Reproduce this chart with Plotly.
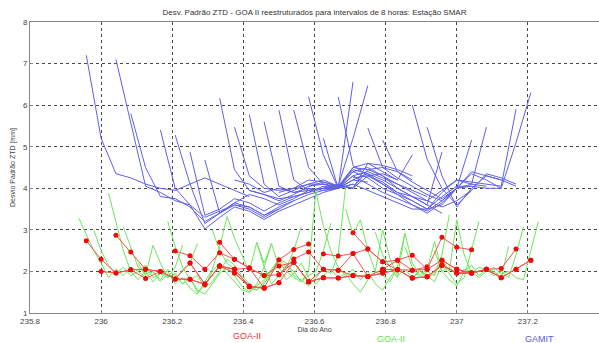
import plotly.graph_objects as go

# Day-of-year axis: values are sampled hourly (GAMIT, GOA-II 8 h) and half-hourly (GOA-II)
DAY0 = 235.0

# ---- GAMIT standard deviation, hourly samples: (start hour, values) ----
GAMIT_01 = (23, [7.2, 5.2, 4.35, 4.25, 4.1, 4.0, 3.95, 4.1, 4.25, 4.1, 3.95, 3.8])
GAMIT_02 = (25, [7.1, 5.6, 4.05, 3.9, 3.7, 3.6, 3.3, 3.45, 3.6, 3.5, 3.3, 3.5])
GAMIT_03 = (26, [5.8, 4.5, 3.8, 3.75, 3.55, 3.2, 3.4, 3.65, 3.55, 3.35, 3.55, 3.7])
GAMIT_04 = (28, [5.4, 4.0, 3.6, 3.02, 3.3, 3.55, 3.45, 3.25, 3.45, 3.6, 3.75, 3.9, 4.0])
GAMIT_05 = (29, [5.28, 4.1, 3.15, 3.4, 3.6, 3.55, 3.35, 3.5, 3.7, 3.85, 3.95, 4.0, 4.1])
GAMIT_06 = (30, [4.87, 3.35, 3.5, 3.75, 3.65, 3.45, 3.65, 3.8, 3.9, 4.05, 4.0, 4.2, 4.15])
GAMIT_07 = (31, [4.68, 3.4, 3.65, 3.85, 3.75, 3.6, 3.75, 3.95, 4.0, 4.1, 4.0, 4.3, 4.35, 4.2])
GAMIT_08 = (32, [6.17, 4.45, 3.95, 3.85, 3.7, 3.85, 4.05, 4.1, 4.05, 4.0, 4.45, 4.5, 4.4, 4.2])
GAMIT_09 = (33, [5.47, 4.3, 4.0, 3.95, 4.0, 4.2, 4.15, 4.05, 4.0, 4.6, 4.55, 4.45, 4.3])
GAMIT_10 = (34, [5.77, 4.1, 3.8, 3.95, 4.1, 4.1, 4.0, 4.3, 4.4, 4.25, 4.1, 3.95, 3.8])
GAMIT_11 = (35, [5.6, 4.05, 3.9, 4.0, 3.95, 4.0, 4.2, 4.35, 4.2, 4.0, 3.8, 3.6, 3.4])
GAMIT_12 = (36, [5.88, 4.2, 3.95, 4.0, 4.0, 4.5, 4.45, 4.3, 4.1, 3.9, 3.7, 3.55, 3.7, 3.95])
GAMIT_13 = (37, [5.88, 4.5, 4.1, 4.0, 4.4, 4.25, 4.0, 3.85, 3.7, 3.5, 3.6, 4.0, 4.05])
GAMIT_14 = (38, [6.2, 4.8, 4.0, 4.3, 4.1, 3.9, 3.75, 3.6, 3.4, 3.65, 4.0, 4.1, 4.05])
GAMIT_15 = (39, [5.2, 4.0, 4.1, 3.95, 3.8, 3.65, 3.5, 3.5, 3.8, 4.05, 4.05, 4.0, 4.0])
GAMIT_16 = (40, [6.2, 4.55, 4.3, 4.1, 3.9, 3.8, 3.7, 3.95, 4.2, 4.15, 4.1, 4.05, 5.9])
GAMIT_17 = (42, [5.45, 4.5, 4.25, 4.05, 3.85, 3.7, 4.0, 4.4, 4.3, 4.2])
GAMIT_18 = (43, [5.16, 4.4, 4.15, 3.95, 3.75, 4.0, 4.35, 4.2, 4.0, 5.1, 6.3])
GAMIT_19 = (45, [6.0, 4.7, 4.0, 3.6, 3.95, 4.35, 4.25, 4.1])
GAMIT_20 = (46, [5.47, 4.3, 3.55, 4.0, 4.3, 4.2, 4.05])
GAMIT_21 = (33, [4.2, 4.1, 3.9, 4.0, 3.9, 3.95, 4.0, 4.0, 6.56])
GAMIT_22 = (34, [3.95, 3.85, 3.75, 3.8, 3.9, 4.0, 4.05, 5.2, 6.47])
GAMIT_23 = (36, [3.9, 4.0, 4.1, 4.2, 4.05, 4.5, 4.6, 4.4, 4.2, 4.8])
GAMIT_24 = (38, [4.05, 4.15, 4.05, 4.4, 4.5, 4.3, 4.0, 3.8, 3.6, 4.87])
GAMIT_25 = (40, [4.02, 4.45, 4.35, 4.1, 3.85, 3.6, 3.45, 3.7, 4.0, 5.16])
GAMIT_26 = (41, [4.25, 4.3, 4.15, 3.9, 3.7, 3.5, 3.9, 4.2, 4.1, 5.47])

# ---- GOA-II standard deviation, half-hourly samples: (start half-hour, values) ----
GOA_01 = (45, [3.28, 2.9, 2.5, 2.2, 1.85, 2.05, 1.9, 2.1, 2.0, 1.85, 2.0, 1.75, 1.95, 1.8, 2.05, 2.2, 2.67])
GOA_02 = (47, [3.0, 2.5, 2.15, 1.95, 2.1, 1.9, 2.0, 2.15, 1.85, 1.95, 2.0, 1.7, 1.85, 1.6, 1.45, 1.75, 2.05, 2.6, 3.32])
GOA_03 = (49, [3.88, 3.2, 2.5, 2.0, 1.8, 2.0, 1.75, 1.95, 1.85, 2.1, 2.63])
GOA_04 = (51, [3.07, 2.6, 2.1, 1.95, 2.0, 1.8, 2.05, 1.9, 1.7, 1.85, 1.55, 1.45, 1.7, 1.95, 2.1, 1.9, 1.65, 1.5, 1.7, 2.1, 2.67])
GOA_05 = (53, [2.2, 1.9, 2.63, 2.2, 1.85, 1.95, 1.7, 1.85, 1.5, 1.65, 2.0, 2.2, 1.95, 1.75, 1.55, 1.5, 1.65, 1.8, 2.05, 2.3, 2.1, 2.5, 3.07])
GOA_06 = (57, [3.2, 2.6, 2.1, 1.8, 1.9, 1.6, 1.75, 2.0, 2.3, 2.15, 1.9, 1.7, 1.55, 1.7, 1.95, 2.25, 2.0, 1.85, 1.75, 1.9, 2.0, 2.5, 3.16])
GOA_07 = (63, [3.0, 2.5, 2.2, 2.05, 1.85, 1.6, 1.55, 1.75, 2.0, 2.3, 2.2, 1.9, 1.8, 1.65, 1.85, 2.05, 1.95, 2.4, 4.04])
GOA_08 = (65, [3.32, 2.8, 2.4, 2.0, 2.7, 2.1, 1.7, 1.9, 2.15, 2.0, 1.75, 2.0, 3.96])
GOA_09 = (69, [2.7, 2.2, 2.67, 2.1, 1.8, 1.95, 2.2, 1.85, 1.7, 1.9, 2.05, 1.85, 1.95, 1.7, 1.5, 1.8, 2.0, 1.9, 1.75, 2.1, 2.92])
GOA_10 = (77, [3.9, 3.1, 2.5, 2.1, 1.9, 2.05, 1.8, 2.0, 1.7, 1.55, 1.85, 2.1, 1.95, 1.8, 2.05, 1.85, 1.95, 2.4, 3.36])
GOA_11 = (81, [3.5, 2.9, 3.24, 2.5, 2.0, 3.0, 2.3, 1.9, 2.05, 1.85, 2.0, 1.9, 1.75, 2.15, 1.95, 1.7, 1.85, 2.5, 3.2])
GOA_12 = (85, [2.95, 2.4, 2.1, 1.85, 2.92, 2.2, 1.9, 2.05, 2.72, 2.0, 1.8, 1.65, 2.0, 2.15, 1.9, 2.05, 2.0, 1.85, 2.6])
GOA_13 = (89, [2.6, 2.1, 1.85, 2.0, 1.9, 2.3, 2.0, 3.24, 2.4, 1.95, 2.1, 2.05, 1.9, 2.0, 1.85, 2.4, 3.07])
GOA_14 = (93, [2.5, 2.0, 2.1, 1.9, 2.05, 2.0, 1.85, 2.0, 2.1, 1.95, 2.0, 1.85, 1.8, 2.5, 3.2])

# ---- GOA-II restructured into 8 h intervals, hourly samples: (start hour, values) ----
GOA8_01 = (23, [2.74, 2.29, 1.96, 2.04, 1.83, 2.0, 1.82, 1.81, 1.69, 2.13, 2.05, 1.63])
GOA8_02 = (24, [2.0, 1.96, 2.04, 2.05, 2.0, 1.82, 1.81, 1.69, 2.13, 1.96, 1.63, 1.6])
GOA8_03 = (25, [2.87, 2.47, 2.05, 2.0, 1.82, 2.2, 1.69, 2.13, 2.05, 2.08, 1.6, 1.73])
GOA8_04 = (29, [2.49, 2.38, 2.05, 2.45, 2.29, 2.08, 1.9, 2.13, 2.22, 1.75, 1.85])
GOA8_05 = (32, [2.70, 2.29, 2.08, 1.9, 1.92, 2.22, 1.75, 1.85, 1.84, 1.9, 1.88])
GOA8_06 = (33, [1.96, 1.63, 1.6, 1.73, 2.22, 1.75, 2.05, 2.03, 1.9, 1.88, 1.96, 2.04])
GOA8_07 = (30, [2.2, 1.7, 2.13, 2.05, 1.65, 1.6, 2.28, 2.53, 2.66])
GOA8_08 = (36, [1.92, 2.3, 2.47, 2.05, 2.03, 2.43, 2.54, 2.23, 2.27, 2.03, 2.11])
GOA8_09 = (38, [1.75, 1.85, 1.84, 1.9, 1.88, 1.96, 2.04, 1.84, 1.87, 2.15, 1.96, 1.96])
GOA8_10 = (41, [2.93, 2.54, 2.23, 2.04, 1.84, 1.87, 2.15, 1.96, 1.96, 2.05, 1.85])
GOA8_11 = (39, [2.42, 2.37, 2.43, 1.88, 2.05, 2.27, 2.39, 2.05, 2.82, 2.58, 2.52])
GOA8_12 = (43, [2.05, 2.04, 2.03, 2.05, 2.27, 2.05, 1.96, 2.05, 2.07, 2.54])
GOA8_13 = (45, [1.84, 1.87, 2.15, 1.96, 1.96, 2.05, 1.85, 2.05, 2.27])
GOA8_14 = (47, [2.27, 2.05, 1.96, 2.05, 1.85, 2.05, 2.27])

GAMIT_SERIES = [GAMIT_01, GAMIT_02, GAMIT_03, GAMIT_04, GAMIT_05, GAMIT_06, GAMIT_07,
                GAMIT_08, GAMIT_09, GAMIT_10, GAMIT_11, GAMIT_12, GAMIT_13, GAMIT_14,
                GAMIT_15, GAMIT_16, GAMIT_17, GAMIT_18, GAMIT_19, GAMIT_20, GAMIT_21,
                GAMIT_22, GAMIT_23, GAMIT_24, GAMIT_25, GAMIT_26]
GOA_SERIES = [GOA_01, GOA_02, GOA_03, GOA_04, GOA_05, GOA_06, GOA_07,
              GOA_08, GOA_09, GOA_10, GOA_11, GOA_12, GOA_13, GOA_14]
GOA8_SERIES = [GOA8_01, GOA8_02, GOA8_03, GOA8_04, GOA8_05, GOA8_06, GOA8_07,
               GOA8_08, GOA8_09, GOA8_10, GOA8_11, GOA8_12, GOA8_13, GOA8_14]

X_TICKS = [235.8, 236.0, 236.2, 236.4, 236.6, 236.8, 237.0, 237.2, 237.4]
X_TICK_TEXT = ["235.8", "236", "236.2", "236.4", "236.6", "236.8", "237", "237.2", "237.4"]
Y_TICKS = [1, 2, 3, 4, 5, 6, 7, 8]

TITLE = "Desv. Padrão ZTD - GOA II reestruturados para intervalos de 8 horas: Estação SMAR"
X_LABEL = "Dia do Ano"
Y_LABEL = "Desvio Padrão ZTD [mm]"
LEGEND_LABELS = [("GOA-II", "rgb(240,50,50)", 0.382, -0.078),
                 ("GOA-II", "rgb(100,225,80)", 0.635, -0.088),
                 ("GAMIT", "rgb(90,90,225)", 0.895, -0.088)]


def days(start, n, per_day):
    return [DAY0 + (start + i) / per_day for i in range(n)]


fig = go.Figure()

for start, vals in GAMIT_SERIES:
    fig.add_trace(go.Scatter(x=days(start, len(vals), 24), y=vals, mode="lines",
                             line=dict(color="rgb(95,95,235)", width=1), hoverinfo="skip"))

for start, vals in GOA_SERIES:
    fig.add_trace(go.Scatter(x=days(start, len(vals), 48), y=vals, mode="lines",
                             line=dict(color="rgb(110,230,90)", width=1), hoverinfo="skip"))

for start, vals in GOA8_SERIES:
    fig.add_trace(go.Scatter(x=days(start, len(vals), 24), y=vals, mode="lines+markers",
                             line=dict(color="rgb(250,80,80)", width=1),
                             marker=dict(color="rgb(240,10,10)", size=5),
                             hoverinfo="skip"))

font_family = "Liberation Sans, Arial, sans-serif"

fig.update_layout(
    width=599, height=343,
    margin=dict(l=30, r=0, t=22, b=30),
    paper_bgcolor="white", plot_bgcolor="white",
    showlegend=False,
    font=dict(family=font_family, size=8, color="#333"),
    title=dict(text=TITLE, x=0.525, xanchor="center", y=0.965, yanchor="middle",
               font=dict(size=8, color="#333")),
    xaxis=dict(range=[235.8, 237.4], tickvals=X_TICKS, ticktext=X_TICK_TEXT,
               showgrid=True, gridcolor="rgba(40,40,40,0.85)", griddash="dot", gridwidth=1,
               zeroline=False, showline=True, linecolor="#888", linewidth=1, mirror=True,
               ticks="inside", ticklen=3, tickcolor="#888",
               tickfont=dict(size=8, color="#444"),
               title=dict(text=X_LABEL, font=dict(size=7, color="#444"), standoff=2)),
    yaxis=dict(range=[1, 8], tickvals=Y_TICKS,
               showgrid=True, gridcolor="rgba(40,40,40,0.85)", griddash="dot", gridwidth=1,
               zeroline=False, showline=True, linecolor="#888", linewidth=1, mirror=True,
               ticks="inside", ticklen=3, tickcolor="#888",
               tickfont=dict(size=8, color="#444"),
               title=dict(text=Y_LABEL, font=dict(size=7, color="#444"), standoff=6)),
)

for text, color, xpos, ypos in LEGEND_LABELS:
    fig.add_annotation(text=text, xref="paper", yref="paper", x=xpos, y=ypos,
                       xanchor="center", yanchor="middle", showarrow=False,
                       font=dict(size=9, color=color, family=font_family))

fig.write_html("out.html")
